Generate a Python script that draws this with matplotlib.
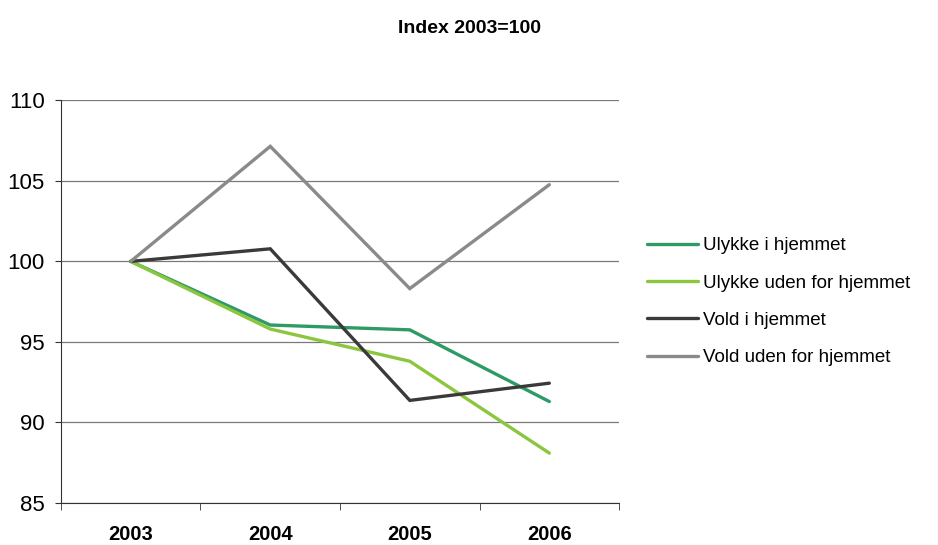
import matplotlib.pyplot as plt
import numpy as np

plt.rcParams['font.family'] = ['Liberation Sans', 'DejaVu Sans']

years = ["2003", "2004", "2005", "2006"]
ulykke_i = [100, 96.05, 95.75, 91.3]
ulykke_uden = [100, 95.8, 93.8, 88.1]
vold_i = [100, 100.78, 91.37, 92.44]
vold_uden = [100, 107.14, 98.31, 104.76]

series = [
    ("Ulykke i hjemmet", ulykke_i, "#2e9a66"),
    ("Ulykke uden for hjemmet", ulykke_uden, "#8cc63e"),
    ("Vold i hjemmet", vold_i, "#3a3a3a"),
    ("Vold uden for hjemmet", vold_uden, "#8a8a8c"),
]

fig = plt.figure(figsize=(9.38, 5.45), dpi=100)
ax = fig.add_axes([0.065, 0.077, 0.595, 0.739])

x = np.arange(len(years))
for name, vals, col in series:
    ax.plot(x, vals, color=col, lw=2.4, label=name, solid_capstyle='round', solid_joinstyle='miter')

ax.set_xlim(-0.5, len(years) - 0.5)
ax.set_ylim(85, 110)
ax.set_yticks(np.arange(85, 111, 5))
ax.yaxis.grid(True, color="#7a7a7a", lw=0.9)
ax.set_axisbelow(True)

ax.set_xticks(x)
ax.set_xticklabels(years, fontsize=14.5, fontweight='bold')
ax.set_xticks(np.arange(-0.5, len(years), 1), minor=True)
ax.tick_params(axis='x', which='major', length=0, pad=16)
ax.tick_params(axis='x', which='minor', length=5, color="#333333")
ax.tick_params(axis='y', length=4.5, labelsize=16, color="#333333", pad=7)

for s in ['top', 'right']:
    ax.spines[s].set_visible(False)
ax.spines['left'].set_color("#333333")
ax.spines['bottom'].set_color("#333333")

fig.text(0.5, 0.948, "Index 2003=100", ha='center', va='center', fontsize=14, fontweight='bold')

ax.legend(loc='center left', bbox_to_anchor=(1.02, 0.5), frameon=False, fontsize=13.5,
          handlelength=2.7, handletextpad=0.3, labelspacing=1.08)

fig.savefig("out.png", dpi=100)
